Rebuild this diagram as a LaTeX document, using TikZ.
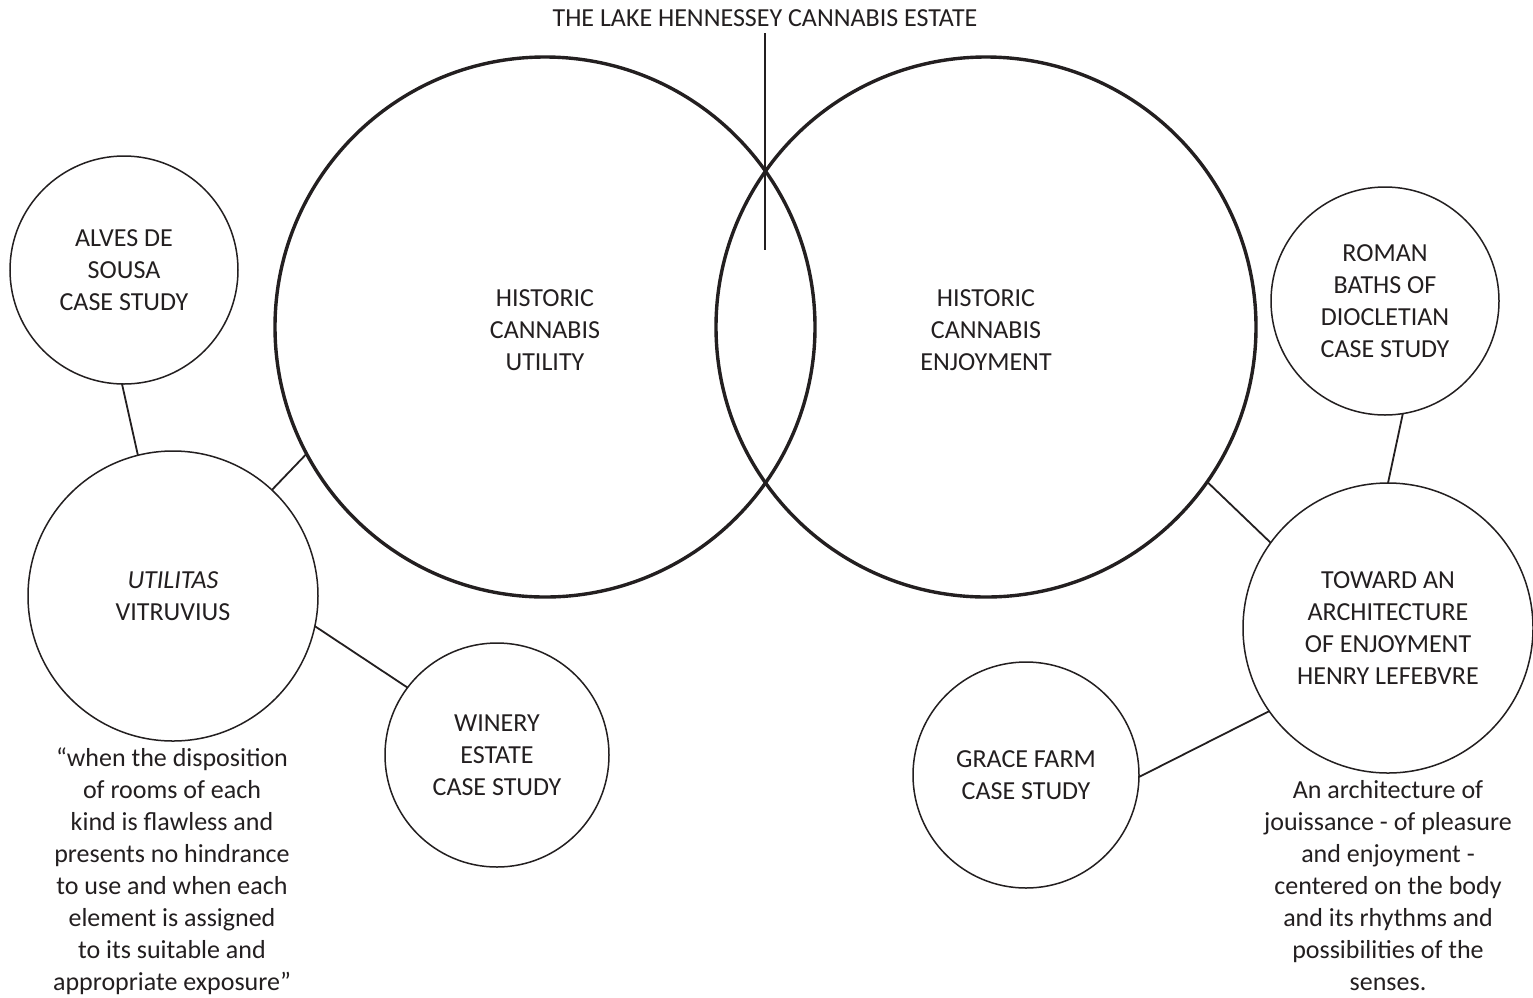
\documentclass[tikz,border=0pt]{standalone}
\usepackage{fontspec}
\setmainfont{Carlito}
\definecolor{ink}{HTML}{231F20}
\begin{document}
\begin{tikzpicture}[x=1pt,y=-1pt,
  txt/.style={text=ink,align=center,font=\fontsize{26}{32}\selectfont,inner sep=0pt},
  bigc/.style={circle,draw=ink,line width=3.4pt,minimum size=#1,inner sep=0pt,outer sep=0pt},
  smallc/.style={circle,draw=ink,line width=1.5pt,minimum size=#1,inner sep=0pt,outer sep=0pt},
  link/.style={draw=ink,line width=1.8pt}]
\useasboundingbox (0,0) rectangle (1533,997);
\fill[white] (0,0) rectangle (1533,997);
% big circles
\node[bigc=540pt] (util) at (545,327) {};
\node[bigc=540pt] (enj) at (986,327) {};
\node[txt] at (545,330) {HISTORIC\\CANNABIS\\UTILITY};
\node[txt] at (986,330) {HISTORIC\\CANNABIS\\ENJOYMENT};
% title
\node[txt] (title) at (765,18) {THE LAKE HENNESSEY CANNABIS ESTATE};
\coordinate (ttop) at (765,33);
\coordinate (tbot) at (765,250);
\draw[link] (ttop) -- (tbot);
% small circles
\node[smallc=228pt,txt] (alves) at (124,270) {ALVES DE\\SOUSA\\CASE STUDY};
\node[smallc=290pt,txt] (vitr) at (173,596) {\textit{UTILITAS}\\VITRUVIUS};
\node[smallc=224pt,txt] (winery) at (497,755) {WINERY\\ESTATE\\CASE STUDY};
\node[smallc=228pt,txt] (roman) at (1385,301) {ROMAN\\BATHS OF\\DIOCLETIAN\\CASE STUDY};
\node[smallc=290pt,txt] (lef) at (1388,628) {TOWARD AN\\ARCHITECTURE\\OF ENJOYMENT\\HENRY LEFEBVRE};
\node[smallc=226pt,txt] (grace) at (1026,775) {GRACE FARM\\CASE STUDY};
% quotes
\node[txt,anchor=north] (q1) at (172,748) {“when the disposition\\of rooms of each\\kind is flawless and\\presents no hindrance\\to use and when each\\element is assigned\\to its suitable and\\appropriate exposure”};
\node[txt,anchor=north] (q2) at (1388,780) {An architecture of\\jouissance - of pleasure\\and enjoyment -\\centered on the body\\and its rhythms and\\possibilities of the\\senses.};
% connectors
\draw[link] (alves.269) -- (vitr.104);
\draw[link] (vitr.47) -- (util.208);
\draw[link] (vitr.-12) -- (winery.143);
\draw[link] (roman.-81) -- (lef.90);
\draw[link] (enj.-35) -- (lef.144);
\draw[link] (lef.215) -- (grace.-1);
\end{tikzpicture}
\end{document}
